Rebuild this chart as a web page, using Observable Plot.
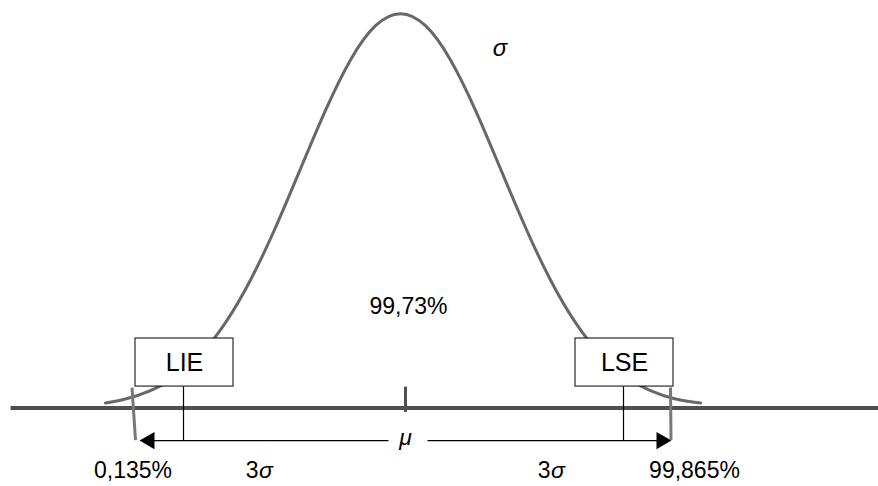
<!DOCTYPE html>
<html>
<head>
<meta charset="utf-8">
<script src="https://cdn.jsdelivr.net/npm/d3@7"></script>
<script src="https://cdn.jsdelivr.net/npm/@observablehq/plot@0.6"></script>
<style>
  html, body { margin: 0; padding: 0; background: #fff; }
</style>
</head>
<body>
<div id="chart"></div>
<script>
// ---- Data (x in σ units from the mean, y as density) ----
const curveZ = [-2.95, -2.75, -2.5, -2.25, -2, -1.75, -1.5, -1.25, -1, -0.75, -0.5, -0.25, 0,
                0.25, 0.5, 0.75, 1, 1.25, 1.5, 1.75, 2, 2.25, 2.5, 2.75, 3.0];
const curveDensity = [0.0051, 0.0091, 0.0175, 0.0317, 0.054, 0.0863, 0.1295, 0.1826, 0.242, 0.3011, 0.3521, 0.3867, 0.3989,
                      0.3867, 0.3521, 0.3011, 0.242, 0.1826, 0.1295, 0.0863, 0.054, 0.0317, 0.0175, 0.0091, 0.0051];

const limitLabels = ["LIE", "LSE"];
const limitZ = [-2.17, 2.23];

const tailZ = [-2.67, 2.70];             // ±3σ marks (as drawn)
const tailLabels = ["0,135%", "99,865%"];
const tailLabelZ = [-2.675, 2.94];

const sigmaLabels = ["3σ", "3σ"];
const sigmaLabelZ = [-1.42, 1.50];

const centerLabel = "99,73%";
const meanLabel = "μ";
const sigmaLabel = "σ";
const meanZ = 0.05;

// ---- Layout constants (data units) ----
const baselineX = [-3.9, 4.78];
const boxHalf = 0.49, boxLow = 0.0217, boxHigh = 0.0703;
const arrowY = -0.0329;
const labelY = -0.0632;

const curve = curveZ.map((z, i) => ({z, d: curveDensity[i]}));
const limits = limitLabels.map((label, i) => ({label, z: limitZ[i]}));
const tails = tailZ.map((z, i) => ({z, label: tailLabels[i], lz: tailLabelZ[i], dir: i === 0 ? -1 : 1}));
const sigmas = sigmaLabels.map((label, i) => ({label, z: sigmaLabelZ[i]}));

const font = "Liberation Sans, Arial, Helvetica, sans-serif";

const chart = Plot.plot({
  width: 878,
  height: 486,
  margin: 0,
  style: {background: "#fff", fontFamily: font},
  x: {domain: [-4, 4.78], axis: null},
  y: {domain: [-0.0794, 0.4122], axis: null},
  marks: [
    // baseline
    Plot.link([0], {x1: () => baselineX[0], x2: () => baselineX[1], y1: () => 0, y2: () => 0,
      stroke: "#505050", strokeWidth: 4}),
    // normal curve
    Plot.line(curve, {x: "z", y: "d", curve: "natural", stroke: "#686868", strokeWidth: 3}),
    // spec-limit boxes
    Plot.rect(limits, {x1: d => d.z + 0.01 - boxHalf, x2: d => d.z + 0.01 + boxHalf,
      y1: () => boxLow, y2: () => boxHigh, fill: "white", stroke: "black", strokeWidth: 1}),
    Plot.text(limits, {x: d => d.z + 0.01, y: () => (boxLow + boxHigh) / 2, text: "label",
      fontSize: 25, fill: "black", fontFamily: font}),
    // black limit lines
    Plot.link(limits, {x1: "z", x2: "z", y1: () => boxLow, y2: () => arrowY, stroke: "black", strokeWidth: 1.2}),
    // mean tick
    Plot.link([meanZ], {x1: d => d, x2: d => d, y1: () => 0.0217, y2: () => -0.004, stroke: "#505050", strokeWidth: 3}),
    // arrow shafts
    Plot.link(tails, {x1: d => d.dir < 0 ? -0.12 : 0.27, x2: d => d.z + (d.dir < 0 ? 0.14 : -0.1),
      y1: () => arrowY, y2: () => arrowY, stroke: "black", strokeWidth: 1.3}),
    // arrow heads
    Plot.dot(tails, {x: d => d.z + d.dir * -0.1 + (d.dir < 0 ? 0.06 : 0.01), y: () => arrowY, symbol: "triangle", r: 6.4,
      rotate: d => d.dir * 90, fill: "black", stroke: "none"}),
    // gray ±3σ lines
    Plot.link(tails, {x1: d => d.z + (d.dir < 0 ? -0.015 : 0), x2: d => d.z + (d.dir < 0 ? 0.02 : 0.005),
      y1: () => 0.0207, y2: () => arrowY + 0.0005, stroke: "#787878", strokeWidth: 3}),
    // labels
    Plot.text(tails, {x: "lz", y: () => labelY, text: "label", fontSize: 23, fill: "black", fontFamily: font}),
    // "3σ": digit upright, σ italic
    Plot.text(sigmas, {x: "z", y: () => labelY, text: d => d.label.slice(0, -1), textAnchor: "end",
      fontSize: 23, fill: "black", fontFamily: font}),
    Plot.text(sigmas, {x: "z", y: () => labelY, text: d => d.label.slice(-1), textAnchor: "start", dx: 0.5,
      fontSize: 23, fontStyle: "italic", fill: "black", fontFamily: font}),
    Plot.text([centerLabel], {x: () => 0.08, y: () => 0.1027, text: d => d, fontSize: 23, fill: "black", fontFamily: font}),
    Plot.text([meanLabel], {x: () => 0.05, y: () => -0.0303, text: d => d, fontSize: 23, fontStyle: "italic", fill: "black", fontFamily: font}),
    Plot.text([sigmaLabel], {x: () => 0.995, y: () => 0.3636, text: d => d, fontSize: 24, fontStyle: "italic", fill: "black", fontFamily: font})
  ]
});

document.getElementById("chart").appendChild(chart);
</script>
</body>
</html>
